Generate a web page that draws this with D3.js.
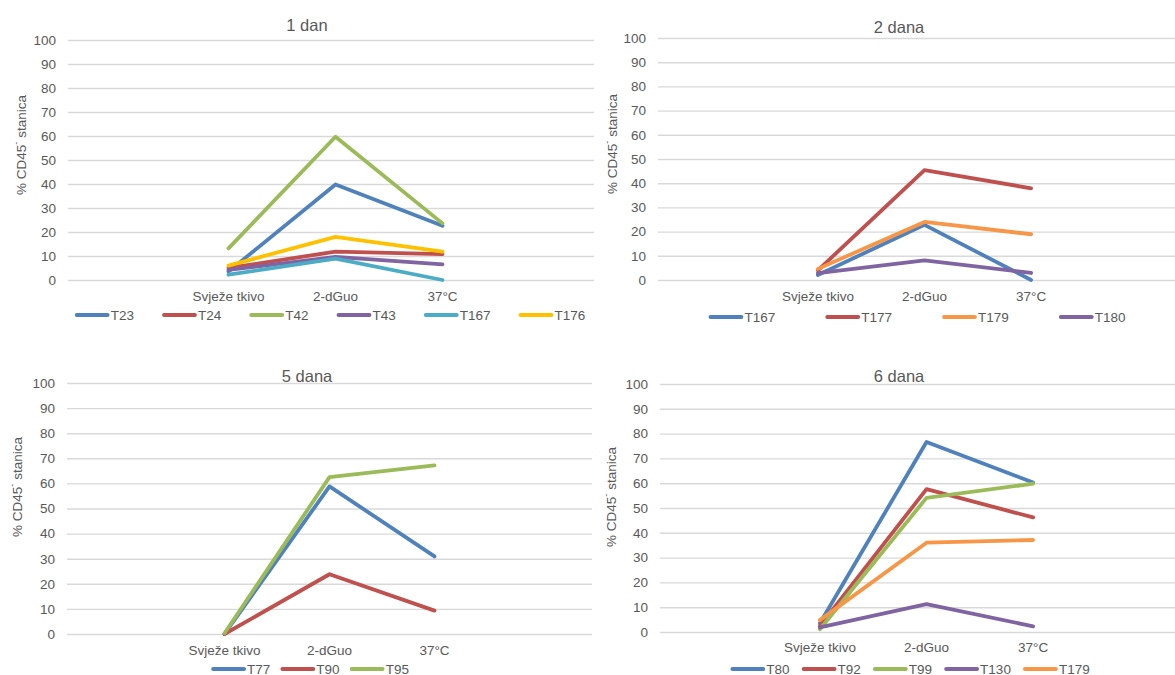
<!DOCTYPE html>
<html>
<head>
<meta charset="utf-8">
<script src="https://cdn.jsdelivr.net/npm/d3@7"></script>
<style>
  html, body { margin: 0; padding: 0; background: #ffffff; }
  svg { display: block; font-family: "Liberation Sans", Arial, sans-serif; }
</style>
</head>
<body>
<svg id="chart" width="1175" height="675"></svg>
<script>
// Shared axis content
const categories = ["Svježe tkivo", "2-dGuo", "37°C"];
const yTicks = [0, 10, 20, 30, 40, 50, 60, 70, 80, 90, 100];

// 1 dan
const dan1Title = "1 dan";
const dan1Series = ["T23", "T24", "T42", "T43", "T167", "T176"];
const dan1Values = [
  [3.5, 39.8, 22.6],
  [5.0, 11.8, 10.8],
  [13.2, 59.7, 23.6],
  [4.2, 9.6, 6.5],
  [2.2, 8.9, 0],
  [6.0, 18.0, 11.8]
];

// 2 dana
const dan2Title = "2 dana";
const dan2Series = ["T167", "T177", "T179", "T180"];
const dan2Values = [
  [2.1, 22.8, 0],
  [4.0, 45.4, 37.9],
  [4.6, 24.0, 18.9],
  [2.8, 8.1, 2.9]
];

// 5 dana
const dan5Title = "5 dana";
const dan5Series = ["T77", "T90", "T95"];
const dan5Values = [
  [0, 58.8, 30.9],
  [0, 23.8, 9.3],
  [0.3, 62.5, 67.2]
];

// 6 dana
const dan6Title = "6 dana";
const dan6Series = ["T80", "T92", "T99", "T130", "T179"];
const dan6Values = [
  [3.5, 76.6, 60.3],
  [2.5, 57.6, 46.2],
  [1.1, 54.1, 59.8],
  [1.9, 11.2, 2.3],
  [4.8, 36.0, 37.1]
];

// Series colours
const dan1Colors = ["#4F81BD", "#C0504D", "#9BBB59", "#8064A2", "#4BACC6", "#FFC000"];
const dan2Colors = ["#4F81BD", "#C0504D", "#F79646", "#8064A2"];
const dan5Colors = ["#4F81BD", "#C0504D", "#9BBB59"];
const dan6Colors = ["#4F81BD", "#C0504D", "#9BBB59", "#8064A2", "#F79646"];

const textColor = "#595959";
const gridColor = "#D9D9D9";

const panels = [
  { title: dan1Title, series: dan1Series, values: dan1Values, colors: dan1Colors,
    left: 68, right: 603, clipRight: 594, top: 40, bottom: 280,
    titleX: 307, titleY: 25, yLabelX: 21, yLabelY: 145,
    catY: 296, legendY: 315, legendCX: 331, legendGap: 30 },
  { title: dan2Title, series: dan2Series, values: dan2Values, colors: dan2Colors,
    left: 658, right: 1191, clipRight: 1175, top: 38, bottom: 280,
    titleX: 899, titleY: 27, yLabelX: 612, yLabelY: 144,
    catY: 296, legendY: 317, legendCX: 918, legendGap: 52 },
  { title: dan5Title, series: dan5Series, values: dan5Values, colors: dan5Colors,
    left: 67, right: 592, clipRight: 594, top: 383, bottom: 634,
    titleX: 307, titleY: 376, yLabelX: 17, yLabelY: 487,
    catY: 650, legendY: 669, legendCX: 311, legendGap: 12 },
  { title: dan6Title, series: dan6Series, values: dan6Values, colors: dan6Colors,
    left: 660, right: 1193, clipRight: 1175, top: 384, bottom: 632,
    titleX: 899, titleY: 376, yLabelX: 611, yLabelY: 497,
    catY: 647, legendY: 669, legendCX: 911, legendGap: 14 }
];

const svg = d3.select("#chart");
const defs = svg.append("defs");

panels.forEach((p, pi) => {
  const g = svg.append("g");

  // three categories centred in a five-slot band, as in the workbook layout
  const x = d3.scaleBand()
    .domain(categories)
    .range([p.left, p.right])
    .paddingOuter(1)
    .paddingInner(0);
  const xc = c => x(c) + x.bandwidth() / 2;

  const y = d3.scaleLinear().domain([0, 100]).range([p.bottom, p.top]);

  // the gridlines stop where the neighbouring chart begins
  const clipId = "clip" + pi;
  defs.append("clipPath").attr("id", clipId)
    .append("rect")
    .attr("x", p.left - 1).attr("y", p.top - 10)
    .attr("width", p.clipRight - p.left + 1)
    .attr("height", p.bottom - p.top + 20);

  // gridlines + tick labels from a left axis
  const yAxis = d3.axisLeft(y)
    .tickValues(yTicks)
    .tickSize(-(p.right - p.left))
    .tickPadding(12)
    .tickFormat(d3.format("d"));

  const axisG = g.append("g")
    .attr("clip-path", `url(#${clipId})`)
    .call(yAxis);
  axisG.attr("transform", `translate(${p.left},0)`);
  axisG.select(".domain").remove();
  axisG.selectAll(".tick line")
    .attr("stroke", gridColor)
    .attr("stroke-width", 1.4);
  // tick labels live outside the clip region, so move them to their own group
  const labelG = g.append("g").attr("transform", `translate(${p.left},0)`);
  axisG.selectAll(".tick text").each(function () {
    const tick = this.parentNode;
    const node = this;
    const tr = d3.select(tick).attr("transform");
    const holder = labelG.append("g").attr("transform", tr);
    holder.node().appendChild(node);
  });
  labelG.selectAll("text")
    .attr("fill", textColor)
    .attr("font-size", 13.5)
    .attr("font-family", "Liberation Sans, Arial, sans-serif")
    .attr("text-anchor", "end");
  // clip rect coordinates are in the panel's user space
  defs.select(`#${clipId} rect`).attr("x", -1).attr("width", p.clipRight - p.left + 1);

  // category labels
  g.selectAll("text.cat")
    .data(categories)
    .join("text")
    .attr("class", "cat")
    .attr("x", d => xc(d))
    .attr("y", p.catY)
    .attr("text-anchor", "middle")
    .attr("dominant-baseline", "central")
    .attr("fill", textColor)
    .attr("font-size", 13.5)
    .text(d => d);

  // title
  g.append("text")
    .attr("x", p.titleX).attr("y", p.titleY)
    .attr("text-anchor", "middle")
    .attr("dominant-baseline", "central")
    .attr("fill", textColor)
    .attr("font-size", 16.5)
    .text(p.title);

  // y axis title with superscript minus
  const yl = g.append("text")
    .attr("transform", `translate(${p.yLabelX},${p.yLabelY}) rotate(-90)`)
    .attr("text-anchor", "middle")
    .attr("dominant-baseline", "central")
    .attr("fill", textColor)
    .attr("font-size", 13.5);
  yl.append("tspan").text("% CD45");
  yl.append("tspan").attr("font-size", 9).attr("dy", -5).text("-");
  yl.append("tspan").attr("dy", 5).text(" stanica");

  // series lines
  const line = d3.line()
    .x((d, i) => xc(categories[i]))
    .y(d => y(d));

  g.selectAll("path.series")
    .data(p.values)
    .join("path")
    .attr("class", "series")
    .attr("d", d => line(d))
    .attr("fill", "none")
    .attr("stroke", (d, i) => p.colors[i])
    .attr("stroke-width", 3.8)
    .attr("stroke-linejoin", "round")
    .attr("stroke-linecap", "round");

  // legend
  const lg = g.append("g");
  const lineLen = 31, textGap = 3;
  const items = p.series.map((name, i) => {
    const it = lg.append("g");
    it.append("line")
      .attr("x1", 0).attr("x2", lineLen)
      .attr("y1", 0).attr("y2", 0)
      .attr("stroke", p.colors[i])
      .attr("stroke-width", 3.8)
      .attr("stroke-linecap", "round");
    const t = it.append("text")
      .attr("x", lineLen + textGap)
      .attr("y", 0)
      .attr("dominant-baseline", "central")
      .attr("fill", textColor)
      .attr("font-size", 13.5)
      .text(name);
    const w = lineLen + textGap + t.node().getComputedTextLength();
    return { it, w };
  });
  const total = d3.sum(items, d => d.w) + p.legendGap * (items.length - 1);
  let cx = p.legendCX - total / 2;
  items.forEach(d => {
    d.it.attr("transform", `translate(${cx},${p.legendY})`);
    cx += d.w + p.legendGap;
  });
});
</script>
</body>
</html>
